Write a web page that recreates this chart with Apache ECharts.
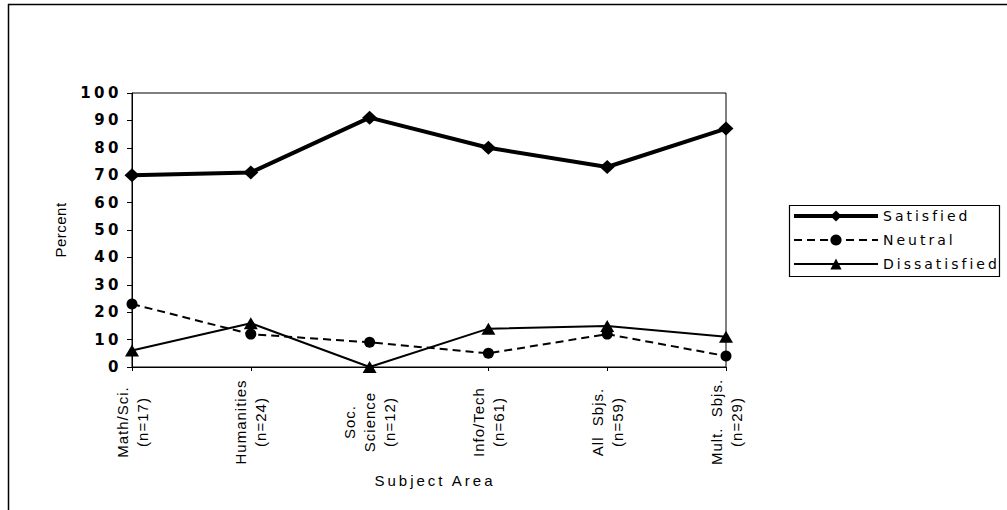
<!DOCTYPE html>
<html>
<head>
<meta charset="utf-8">
<script src="https://cdn.jsdelivr.net/npm/echarts@6/dist/echarts.min.js"></script>
<style>
  html, body { margin: 0; padding: 0; background: #fff; }
  #chart { width: 1007px; height: 510px; }
</style>
</head>
<body>
<div id="chart"></div>
<script>
// Subject areas and group sizes
const subjects = ['Math/Sci.', 'Humanities', 'Soc.\nScience', 'Info/Tech', 'All  Sbjs.', 'Mult.  Sbjs.'];
const groupSizes = [17, 24, 12, 61, 59, 29];

// Percent of respondents in each group
const satisfied    = [70, 71, 91, 80, 73, 87];
const neutral      = [23, 12, 9, 5, 12, 4];
const dissatisfied = [6, 16, 0, 14, 15, 11];

const yTicks = { min: 0, max: 100, step: 10 };
const seriesNames = ['Satisfied', 'Neutral', 'Dissatisfied'];
const xTitle = 'Subject Area';
const yTitle = 'Percent';

const categoryLabels = subjects.map((s, i) => s + '\n(n=' + groupSizes[i] + ')');

const chart = echarts.init(document.getElementById('chart'), null, { renderer: 'svg' });

const sansText = 'Liberation Sans, Arial, Helvetica, sans-serif';
const wideText = 'DejaVu Sans, Verdana, sans-serif';

const lineStyles = [
  { color: '#000', width: 4 },
  { color: '#000', width: 2, type: [8, 5] },
  { color: '#000', width: 2 }
];

chart.setOption({
  animation: false,
  backgroundColor: '#fff',
  grid: {
    left: 132, right: 281, top: 93, bottom: 143,
    show: true, borderColor: '#000', borderWidth: 1, backgroundColor: 'transparent'
  },
  legend: {
    orient: 'vertical',
    left: 792, top: 209,
    padding: 0,
    itemWidth: 84, itemHeight: 14, itemGap: 10,
    data: seriesNames.map((n, i) => ({ name: n, lineStyle: lineStyles[i] })),
    textStyle: { fontFamily: wideText, fontSize: 14, color: '#000' }
  },
  xAxis: {
    type: 'category',
    data: categoryLabels,
    boundaryGap: false,
    name: xTitle,
    nameLocation: 'middle',
    nameGap: 106,
    nameTextStyle: { fontFamily: sansText, fontSize: 15, color: '#000', padding: [0, 0, 0, 12] },
    axisLine: { lineStyle: { color: '#000', width: 1 } },
    axisTick: { show: true, length: 4, lineStyle: { color: '#000' } },
    axisLabel: {
      rotate: 90, interval: 0,
      align: 'center', verticalAlign: 'middle',
      margin: 55,
      lineHeight: 20,
      fontFamily: sansText, fontSize: 15, color: '#000'
    },
    splitLine: { show: false }
  },
  yAxis: {
    type: 'value',
    min: yTicks.min, max: yTicks.max, interval: yTicks.step,
    name: yTitle,
    nameLocation: 'middle',
    nameGap: 64,
    nameTextStyle: { fontFamily: sansText, fontSize: 15, color: '#000' },
    axisLine: { show: true, lineStyle: { color: '#000', width: 1 } },
    axisTick: { show: true, length: 5, lineStyle: { color: '#000' } },
    axisLabel: { margin: 10, fontFamily: wideText, fontWeight: 'bold', fontSize: 15, color: '#000' },
    splitLine: { show: false }
  },
  graphic: [
    // page frame: left and top edges
    { type: 'line', shape: { x1: 8, y1: 4.5, x2: 1007, y2: 4.5 }, style: { stroke: '#000', lineWidth: 1.5 } },
    { type: 'line', shape: { x1: 8.5, y1: 4, x2: 8.5, y2: 510 }, style: { stroke: '#000', lineWidth: 1.5 } },
    // legend box
    { type: 'rect', shape: { x: 789.5, y: 205.5, width: 210, height: 71 }, style: { fill: 'none', stroke: '#000', lineWidth: 1.2 } }
  ],
  series: [
    {
      name: seriesNames[0], type: 'line', data: satisfied,
      symbol: 'diamond', symbolSize: [15, 14], z: 4,
      lineStyle: lineStyles[0],
      itemStyle: { color: '#000' }
    },
    {
      name: seriesNames[1], type: 'line', data: neutral,
      symbol: 'circle', symbolSize: 11, z: 3,
      lineStyle: lineStyles[1],
      itemStyle: { color: '#000' }
    },
    {
      name: seriesNames[2], type: 'line', data: dissatisfied,
      symbol: 'triangle', symbolSize: [14, 12], z: 2,
      lineStyle: lineStyles[2],
      itemStyle: { color: '#000' }
    }
  ]
});

// Loose tracking of the typeset labels
function trackText() {
  document.querySelectorAll('#chart svg text').forEach(t => {
    const s = t.textContent.trim();
    let ls = 1;
    if (/^\d+$/.test(s)) ls = 3.5;
    else if (seriesNames.indexOf(s) >= 0) ls = 3;
    else if (s === xTitle) ls = 3;
    else if (s === yTitle) ls = 0.5;
    t.setAttribute('letter-spacing', ls);
  });
}
trackText();
chart.on('finished', trackText);
</script>
</body>
</html>
